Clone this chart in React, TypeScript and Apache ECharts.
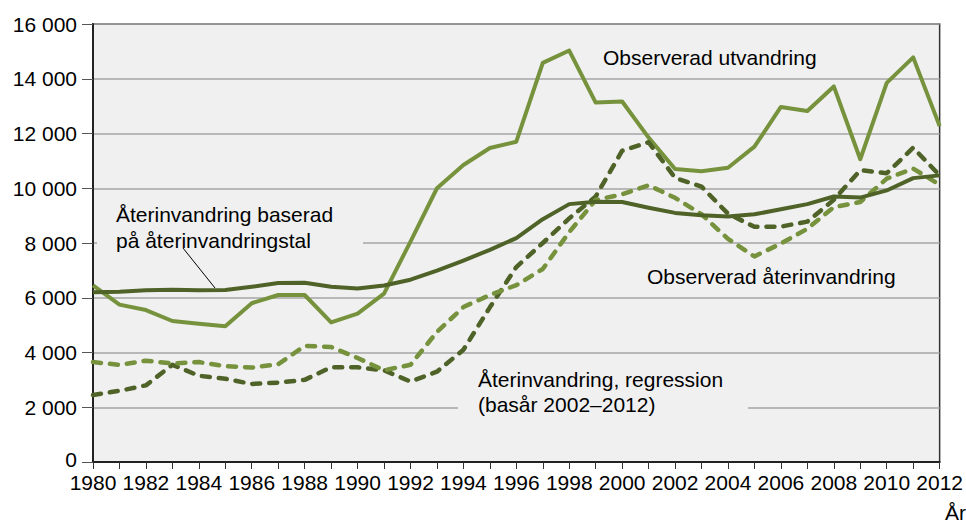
import React, { useEffect, useRef } from "react";
import * as echarts from "echarts";

const years: string[] = [];
for (let y = 1980; y <= 2012; y++) years.push(String(y));

const observeradUtvandring = [6450, 5750, 5550, 5150, 5050, 4960, 5800, 6100, 6100, 5100, 5420, 6150, 8050, 10000, 10850, 11470, 11700, 14580, 15030, 13130, 13170, 11850, 10700, 10620, 10750, 11520, 12970, 12820, 13720, 11060, 13850, 14780, 12270];
const aterBaserad = [6200, 6220, 6270, 6290, 6270, 6280, 6400, 6540, 6550, 6400, 6340, 6450, 6660, 6990, 7360, 7750, 8180, 8870, 9420, 9510, 9500, 9290, 9100, 9010, 8970, 9050, 9230, 9420, 9700, 9660, 9920, 10370, 10470];
const observeradAter = [2450, 2600, 2800, 3550, 3150, 3040, 2850, 2900, 3000, 3460, 3460, 3350, 2940, 3300, 4100, 5650, 7120, 8000, 8900, 9700, 11370, 11680, 10380, 10060, 9070, 8590, 8600, 8780, 9580, 10660, 10550, 11480, 10470];
const regression = [3650, 3550, 3700, 3600, 3650, 3500, 3450, 3570, 4240, 4200, 3800, 3350, 3550, 4750, 5660, 6100, 6460, 7050, 8400, 9570, 9780, 10110, 9650, 9050, 8150, 7510, 7980, 8520, 9310, 9500, 10350, 10720, 10130];

const LIGHT = "#76923C";
const DARK = "#4F6228";
const FONT = "'Liberation Sans', Arial, sans-serif";
const FS = 21;

function fmt(v: number) {
  return String(v).replace(/\B(?=(\d{3})+(?!\d))/g, " ");
}

export default function App() {
  const ref = useRef<HTMLDivElement>(null);
  useEffect(() => {
    const chart = echarts.init(ref.current!, null, { renderer: "svg" });
    const textStyle = { fill: "#000", font: `${FS}px ${FONT}`, verticalAlign: "middle" as const };
    chart.setOption({
      animation: false,
      backgroundColor: "#fff",
      grid: {
        left: 93,
        right: 25,
        top: 24,
        bottom: 64,
        show: true,
        backgroundColor: "#f0f0f0",
        borderColor: "#333",
        borderWidth: 1.5,
      },
      xAxis: {
        type: "category",
        data: years,
        boundaryGap: false,
        axisLine: { lineStyle: { color: "#222", width: 2 } },
        axisTick: { show: true, interval: 0, length: 7, lineStyle: { color: "#333", width: 1 } },
        axisLabel: { interval: 1, color: "#000", fontSize: FS, fontFamily: FONT, margin: 10 },
        splitLine: { show: false },
      },
      yAxis: {
        type: "value",
        min: 0,
        max: 16000,
        interval: 2000,
        axisLine: { show: true, lineStyle: { color: "#222", width: 2 } },
        axisTick: { show: true, length: 11, lineStyle: { color: "#555", width: 1 } },
        axisLabel: {
          color: "#000",
          fontSize: FS,
          fontFamily: FONT,
          margin: 16,
          formatter: (v: number) => (v === 0 ? "{z|0}" : fmt(v)),
          rich: { z: { fontSize: FS, fontFamily: FONT, color: "#000", padding: [0, 0, 6, 0] } },
        },
        splitLine: { show: true, lineStyle: { color: "#a6a6a6", width: 1.5 } },
      },
      series: [
        {
          name: "Observerad utvandring",
          type: "line",
          data: observeradUtvandring,
          symbol: "none",
          lineStyle: { color: LIGHT, width: 4, join: "round" },
          z: 3,
        },
        {
          name: "Återinvandring baserad på återinvandringstal",
          type: "line",
          data: aterBaserad,
          symbol: "none",
          lineStyle: { color: DARK, width: 4, join: "round" },
          z: 4,
        },
        {
          name: "Observerad återinvandring",
          type: "line",
          data: observeradAter,
          symbol: "none",
          lineStyle: { color: DARK, width: 4.5, type: [8, 9], cap: "round", join: "round" },
          z: 3,
        },
        {
          name: "Återinvandring, regression (basår 2002–2012)",
          type: "line",
          data: regression,
          symbol: "none",
          lineStyle: { color: LIGHT, width: 4.5, type: [8, 9], cap: "round", join: "round" },
          z: 3,
        },
      ],
      graphic: [
        { type: "rect", z: 1, shape: { x: 97, y: 200, width: 266, height: 52 }, style: { fill: "#f0f0f0" } },
        { type: "rect", z: 1, shape: { x: 458, y: 366, width: 290, height: 50 }, style: { fill: "#f0f0f0" } },
        { type: "line", z: 10, shape: { x1: 183, y1: 248, x2: 215, y2: 288 }, style: { stroke: "#000", lineWidth: 1 } },
        { type: "text", z: 10, x: 603, y: 57, style: { ...textStyle, text: "Observerad utvandring" } },
        { type: "text", z: 10, x: 116, y: 214, style: { ...textStyle, text: "Återinvandring baserad" } },
        { type: "text", z: 10, x: 116, y: 240, style: { ...textStyle, text: "på återinvandringstal" } },
        { type: "text", z: 10, x: 647, y: 276, style: { ...textStyle, text: "Observerad återinvandring" } },
        { type: "text", z: 10, x: 478, y: 379, style: { ...textStyle, text: "Återinvandring, regression" } },
        { type: "text", z: 10, x: 478, y: 404, style: { ...textStyle, text: "(basår 2002–2012)" } },
        { type: "text", z: 10, x: 945, y: 512, style: { ...textStyle, text: "År" } },
      ],
    });
    return () => chart.dispose();
  }, []);
  return <div ref={ref} style={{ width: 966, height: 526, position: "absolute", left: 0, top: 0 }} />;
}
